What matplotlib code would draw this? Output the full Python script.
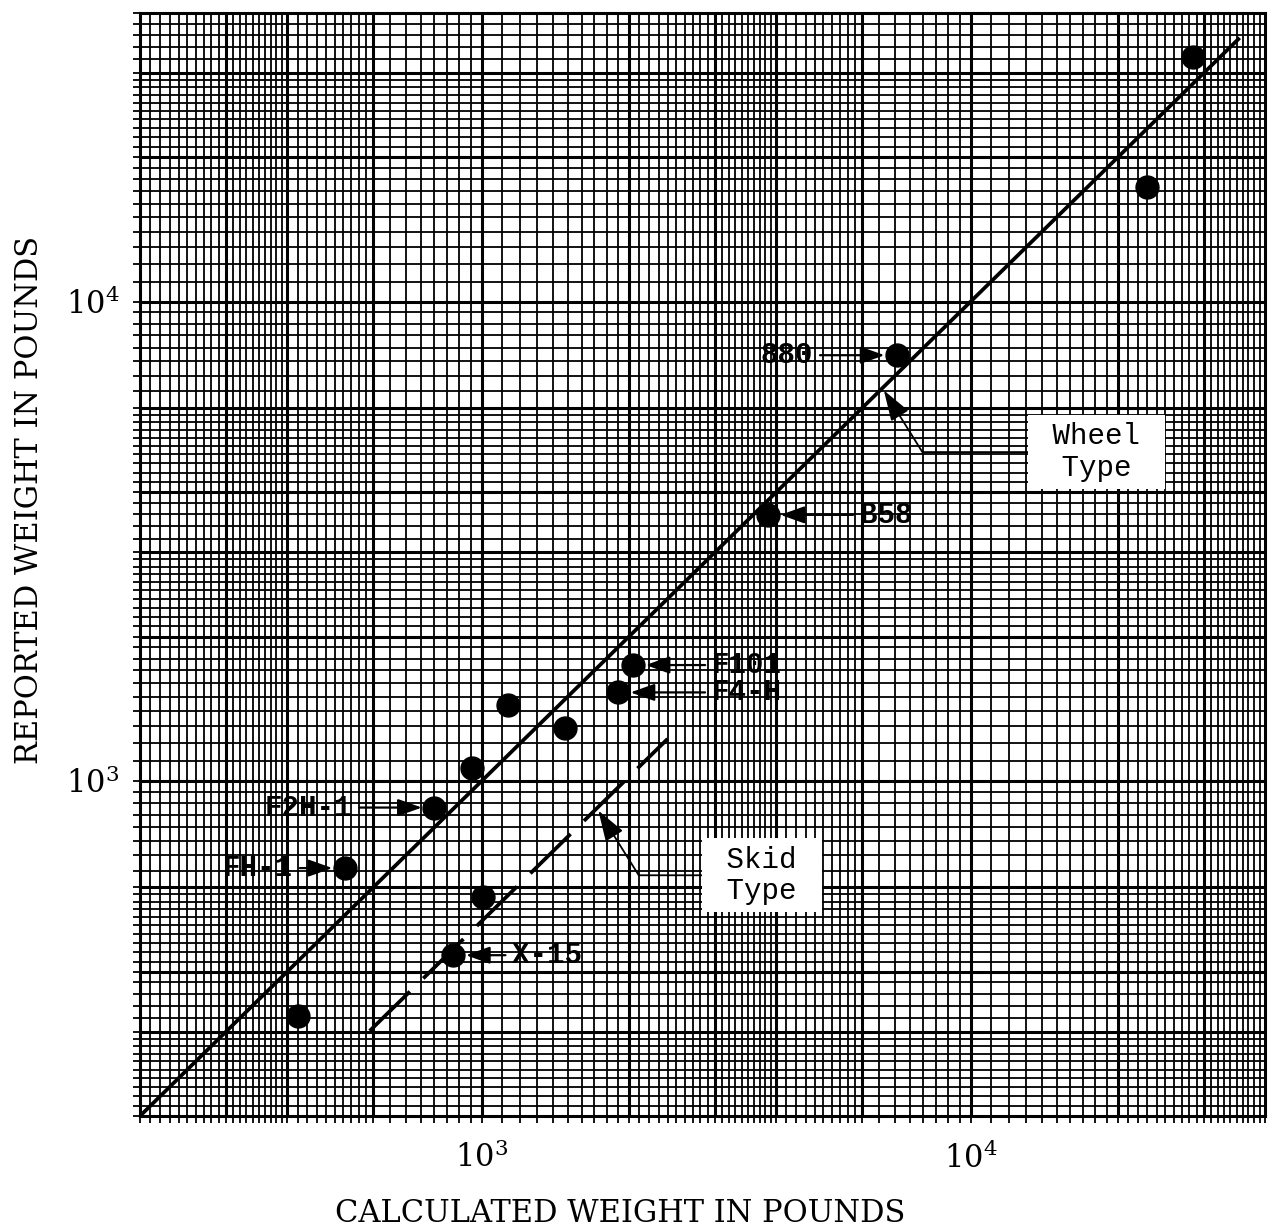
import numpy as np
import matplotlib
matplotlib.use("Agg")
import matplotlib.pyplot as plt
from matplotlib.ticker import FixedLocator, FixedFormatter, NullFormatter

# ---------------- data ----------------
calc_weight = [28500, 22950, 7070, 3850, 2040, 1900, 1130, 1480, 955, 800, 525, 1005, 875, 420]
reported_weight = [32400, 17340, 7730, 3590, 1745, 1530, 1440, 1290, 1065, 880, 658, 573, 433, 323]
point_labels = ["", "", "880", "B58", "F101", "F4-H", "", "", "", "F2H-1", "FH-1", "", "X-15", ""]

wheel_x = [200, 35500]
wheel_y = [200, 35500]
skid_x = [590, 2400]
skid_y = [301, 1224]

curve_labels = [" Wheel \n Type ", " Skid \n Type "]
curve_label_at_x = [6600, 1720]     # point on each curve the leader arrow touches
curve_label_at_y = [6600, 877]

major_ticks = [1e3, 1e4]
major_tick_labels = [r"$10^3$", r"$10^4$"]
x_label = "CALCULATED WEIGHT IN POUNDS"
y_label = "REPORTED WEIGHT IN POUNDS"
x_limits = [200, 40000]
y_limits = [200, 40000]

# ---------------- layout / style ----------------
label_offsets = [(0, 0), (0, 0), (-84, 0), (92, 0), (79, 0), (94, 0), (0, 0), (0, 0),
                 (0, 0), (-82, 0), (-52, 0), (0, 0), (59, 0), (0, 0)]
curve_label_offsets = [(214, -64), (165, -67)]
leader_angle = -58

x_bands = [(1, 2, 0.1), (2, 3, 0.1), (3, 4, 0.1), (4, 6, 0.2), (6, 10, 0.5)]
y_bands = [(1, 2, 0.1), (2, 3, 0.1), (3, 4, 0.2), (4, 6, 0.2), (6, 10, 0.5)]
heavy_mult = [1, 2, 3, 4, 6]


def paper_lines(bands, lo, hi):
    vals = []
    for dec in [100, 1000, 10000, 100000]:
        for a, b, step in bands:
            n = int(round((b - a) / step))
            for k in range(n):
                vals.append(round((a + k * step) * dec, 6))
    return [v for v in vals if lo <= v <= hi]


def heavy_lines(lo, hi):
    vals = [m * dec for dec in [100, 1000, 10000, 100000] for m in heavy_mult]
    return [v for v in vals if lo < v < hi]


plt.rcParams["mathtext.fontset"] = "dejavuserif"
plt.rcParams["font.family"] = ["DejaVu Serif"]

W, H = 1271, 1231
fig = plt.figure(figsize=(W / 100, H / 100), dpi=100)
ax_left, ax_right, ax_bottom, ax_top = 140, 1265, 1116, 13
ax = fig.add_axes([ax_left / W, 1 - ax_bottom / H, (ax_right - ax_left) / W, (ax_bottom - ax_top) / H])

ax.set_xscale("log")
ax.set_yscale("log")
ax.set_xlim(*x_limits)
ax.set_ylim(*y_limits)

# graph paper grid
ax.xaxis.set_major_locator(FixedLocator(major_ticks))
ax.xaxis.set_major_formatter(FixedFormatter(major_tick_labels))
ax.yaxis.set_major_locator(FixedLocator(major_ticks))
ax.yaxis.set_major_formatter(FixedFormatter(major_tick_labels))
ax.xaxis.set_minor_locator(FixedLocator(paper_lines(x_bands, *x_limits)))
ax.yaxis.set_minor_locator(FixedLocator(paper_lines(y_bands, *y_limits)))
ax.xaxis.set_minor_formatter(NullFormatter())
ax.yaxis.set_minor_formatter(NullFormatter())
ax.set_axisbelow(True)
ax.grid(which="both", color="black", lw=1.3)
for v in heavy_lines(*x_limits):
    ax.axvline(v, color="black", lw=2.2, zorder=1)
for v in heavy_lines(*y_limits):
    ax.axhline(v, color="black", lw=2.2, zorder=1)

ax.tick_params(which="both", direction="out", length=5, width=1.3, color="black",
               top=False, right=False, labelsize=22)
ax.tick_params(axis="x", which="major", pad=14)
ax.tick_params(axis="y", which="major", pad=10)
for s in ax.spines.values():
    s.set_linewidth(2.2)
    s.set_color("black")

# fitted lines
ax.plot(wheel_x, wheel_y, color="black", lw=2.7, solid_capstyle="butt", zorder=3)
ax.plot(skid_x, skid_y, color="black", lw=2.7, dashes=(15.0, 5.0), dash_capstyle="butt", zorder=3)

# data points
ax.plot(calc_weight, reported_weight, "o", color="black", ms=16.5, zorder=4)

mono = ["Liberation Mono", "DejaVu Sans Mono"]
for x, y, lab, (dx, dy) in zip(calc_weight, reported_weight, point_labels, label_offsets):
    if not lab:
        continue
    ax.annotate(lab, xy=(x, y), xytext=(dx, dy), textcoords="offset pixels",
                ha="right" if dx < 0 else "left", va="center", fontsize=21, family=mono,
                fontweight="bold",
                arrowprops=dict(arrowstyle="-|>,head_length=0.7,head_width=0.25", color="black",
                                lw=1.6, shrinkA=3, shrinkB=9),
                zorder=6)

for lab, cx, cy, (dx, dy) in zip(curve_labels, curve_label_at_x, curve_label_at_y, curve_label_offsets):
    ax.annotate(lab, xy=(cx, cy), xytext=(dx, dy), textcoords="offset pixels",
                ha="center", va="center", multialignment="center", fontsize=21, family=mono,
                linespacing=1.15,
                bbox=dict(boxstyle="square,pad=0.25", fc="white", ec="none"),
                arrowprops=dict(arrowstyle="-|>,head_length=0.9,head_width=0.3", color="black", lw=1.3,
                                shrinkA=0, shrinkB=2,
                                connectionstyle=f"angle,angleA=0,angleB={leader_angle},rad=0"),
                zorder=6)

ax.set_xlabel(x_label, fontsize=22)
ax.set_ylabel(y_label, fontsize=22)
ax.xaxis.set_label_coords((620 - ax_left) / (ax_right - ax_left), (ax_bottom - 1213) / (ax_bottom - ax_top))
ax.yaxis.set_label_coords((30 - ax_left) / (ax_right - ax_left), (ax_bottom - 500) / (ax_bottom - ax_top))
ax.xaxis.label.set_va("center")
ax.yaxis.label.set_va("center")

fig.savefig("out.png", dpi=100, facecolor="white")
